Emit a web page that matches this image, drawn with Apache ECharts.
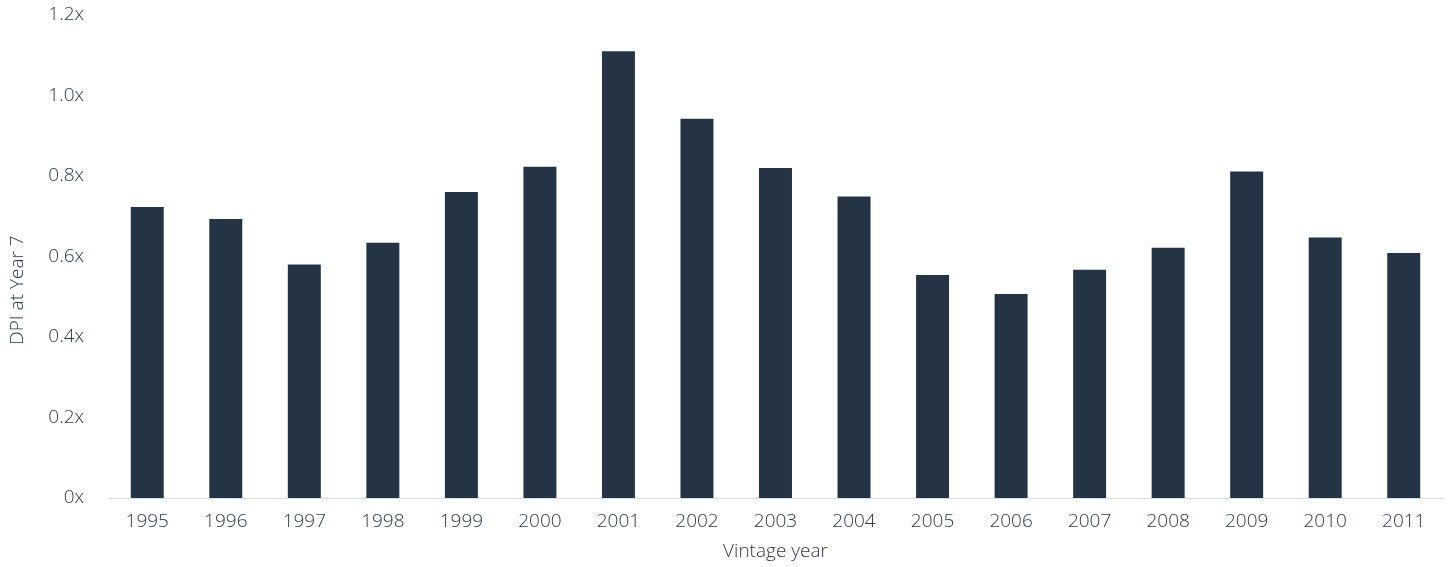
<!DOCTYPE html>
<html><head><meta charset="utf-8">
<script src="https://cdn.jsdelivr.net/npm/echarts@6/dist/echarts.min.js"></script>
<style>html,body{margin:0;padding:0;background:#fff}#c{width:1453px;height:567px}</style>
</head><body><div id="c"></div>
<script>
var categories = ['1995','1996','1997','1998','1999','2000','2001','2002','2003','2004','2005','2006','2007','2008','2009','2010','2011'];
var dpiValues = [0.723,0.693,0.580,0.634,0.760,0.823,1.110,0.942,0.820,0.749,0.554,0.507,0.567,0.622,0.811,0.647,0.609];
var yTicks = [0,0.2,0.4,0.6,0.8,1.0,1.2];

var font = '"Open Sans", "Segoe UI", sans-serif';
var txt = '#2f3a48';
var fs = 19;
var chart = echarts.init(document.getElementById('c'), null, {renderer:'canvas'});
chart.setOption({
  animation:false,
  grid:{left:108,right:10,top:15,bottom:69,containLabel:false,outerBoundsMode:'none'},
  graphic:[{
    type:'text', x:17.5, y:290, rotation:Math.PI/2,
    style:{text:'DPI at Year 7', fill:txt, font:'300 '+fs+'px '+font, textAlign:'center', textVerticalAlign:'middle'}
  }],
  xAxis:{
    type:'category', data:categories,
    axisLine:{show:true,lineStyle:{color:'#d5deea',width:1}},
    axisTick:{show:false},
    axisLabel:{color:txt,fontFamily:font,fontSize:fs,fontWeight:300,margin:14},
    name:'Vintage year', nameLocation:'middle', nameGap:44,
    nameTextStyle:{color:txt,fontFamily:font,fontSize:fs,fontWeight:300}
  },
  yAxis:{
    type:'value', min:0, max:1.2, interval:0.2,
    splitLine:{show:false}, axisLine:{show:false}, axisTick:{show:false},
    axisLabel:{color:txt,fontFamily:font,fontSize:fs,fontWeight:300,margin:24,
      formatter:function(v){ return v===0?'0x':v.toFixed(1)+'x'; }}
  },
  series:[{
    type:'bar', data:dpiValues, barWidth:'42%',
    itemStyle:{color:'#253444'}
  }]
});
</script></body></html>
